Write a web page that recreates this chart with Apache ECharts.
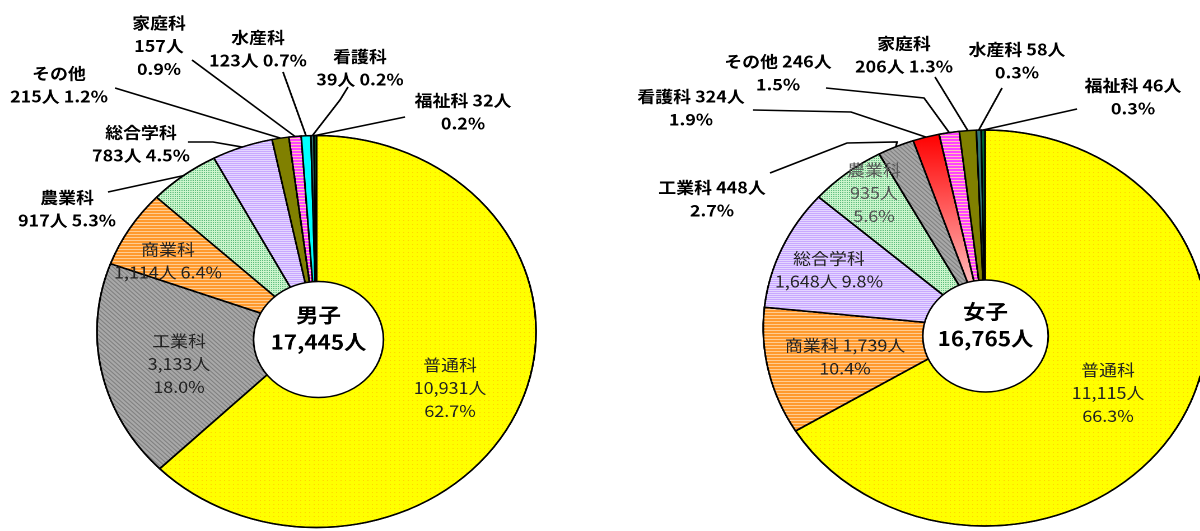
<!DOCTYPE html>
<html>
<head>
<meta charset="utf-8">
<script src="https://cdn.jsdelivr.net/npm/echarts@6/dist/echarts.min.js"></script>
<style>
html, body { margin: 0; padding: 0; background: #fff; overflow: hidden; }
#wrap { width: 1200px; height: 531px; overflow: hidden; }
#chart { width: 1071.43px; height: 531px; transform-origin: 0 0; transform: scaleX(1.12); }
</style>
</head>
<body>
<div id="wrap"><div id="chart"></div></div>
<script>
// 男子
const maleNames = ['普通科', '工業科', '商業科', '農業科', '総合学科', 'その他', '家庭科', '水産科', '看護科', '福祉科'];
const maleValues = [10931, 3133, 1114, 917, 783, 215, 157, 123, 39, 32];
const malePct = [62.7, 18.0, 6.4, 5.3, 4.5, 1.2, 0.9, 0.7, 0.2, 0.2];
const maleTitle = '男子';
const maleTotal = 17445;

// 女子
const femaleNames = ['普通科', '商業科', '総合学科', '農業科', '工業科', '看護科', 'その他', '家庭科', '水産科', '福祉科'];
const femaleValues = [11115, 1739, 1648, 935, 448, 324, 246, 206, 58, 46];
const femalePct = [66.3, 10.4, 9.8, 5.6, 2.7, 1.9, 1.5, 1.3, 0.3, 0.3];
const femaleTitle = '女子';
const femaleTotal = 16765;

const S = 1.12; // 横に引き伸ばし
const FONT = '"Noto Sans CJK JP", "Noto Sans", sans-serif';

function fmtNum(v) {
  return String(v).replace(/\B(?=(\d{3})+(?!\d))/g, ',');
}

// 塗り（模様）
const fills = {
  yellow: { color: '#FFFF00', decal: { symbol: 'rect', color: 'rgba(255,180,0,0.55)', dashArrayX: [1, 3], dashArrayY: [1, 3], symbolSize: 1 } },
  gray: { color: '#A8A8A8', decal: { symbol: 'rect', color: 'rgba(80,80,80,0.45)', dashArrayX: [1, 0], dashArrayY: [1, 2], rotation: Math.PI / 4, symbolSize: 1 } },
  orange: { color: '#FF9A2E', decal: { symbol: 'rect', color: 'rgba(255,222,180,0.75)', dashArrayX: [1, 0], dashArrayY: [1, 2], symbolSize: 1 } },
  green: { color: '#CCF5CC', decal: { symbol: 'rect', color: 'rgba(0,140,60,0.55)', dashArrayX: [1, 1], dashArrayY: [1, 1], symbolSize: 1 } },
  lavender: { color: '#C8A8FF', decal: { symbol: 'rect', color: 'rgba(235,225,255,0.8)', dashArrayX: [1, 0], dashArrayY: [1, 1], symbolSize: 1 } },
  olive: { color: '#808000' },
  magenta: { color: '#FF44FF', decal: { symbol: 'rect', color: 'rgba(255,230,160,0.8)', dashArrayX: [1, 0], dashArrayY: [1, 2], symbolSize: 1 } },
  cyan: { color: '#00FFFF' },
  teal: { color: '#337777' },
  dkgreen: { color: '#006633' },
  red: {
    color: new echarts.graphic.LinearGradient(0, 0, 0, 1, [
      { offset: 0, color: '#FF0000' },
      { offset: 1, color: '#FFF2F2' }
    ])
  }
};

const maleFills = ['yellow', 'gray', 'orange', 'green', 'lavender', 'olive', 'magenta', 'cyan', 'teal', 'dkgreen'];
const femaleFills = ['yellow', 'orange', 'lavender', 'green', 'gray', 'red', 'magenta', 'olive', 'teal', 'dkgreen'];

// ラベル位置（画面座標）と書式  f: 3=3行, 'n|vp', 'nv|p'
const maleLabels = [
  { x: 450, y: 388, f: 3, inside: true },
  { x: 179, y: 364, f: 3, inside: true },
  { x: 168, y: 261, f: 'n|vp', inside: true },
  { x: 67, y: 209, f: 'n|vp', line: [[108, 192]] },
  { x: 141, y: 144, f: 'n|vp', line: [[188, 142], [213, 142]] },
  { x: 59, y: 85, f: 'n|vp', line: [[115, 88]] },
  { x: 159, y: 46, f: 3, line: [[192, 60]] },
  { x: 258, y: 49, f: 'n|vp', line: [[283, 72]] },
  { x: 360, y: 68, f: 'n|vp', line: [[348, 87], [340, 100]] },
  { x: 463, y: 112, f: 'nv|p', line: [[405, 117]] }
];
const femaleLabels = [
  { x: 1108, y: 393, f: 3, inside: true },
  { x: 845, y: 357, f: 'nv|p', inside: true },
  { x: 829, y: 270, f: 'n|vp', inside: true },
  { x: 874, y: 193, f: 3, inside: true, color: '#555' },
  { x: 712, y: 199, f: 'nv|p', line: [[770, 173], [847, 143], [897, 142]] },
  { x: 691, y: 108, f: 'nv|p', line: [[753, 110], [851, 112]] },
  { x: 778, y: 73, f: 'nv|p', line: [[826, 88], [924, 98]] },
  { x: 904, y: 55, f: 'n|vp', line: [[935, 77]] },
  { x: 1017, y: 61, f: 'nv|p', line: [[1002, 88]] },
  { x: 1133, y: 97, f: 'nv|p', line: [[1077, 109]] }
];

function labelText(name, value, pct, f) {
  const v = fmtNum(value) + '人';
  const p = pct.toFixed(1) + '%';
  if (f === 3) return name + '\n' + v + '\n' + p;
  if (f === 'n|vp') return name + '\n' + v + ' ' + p;
  return name + ' ' + v + '\n' + p;
}

function buildPie(names, values, pct, fillKeys, labels, center, radius) {
  const data = names.map((n, i) => {
    const fill = fills[fillKeys[i]];
    const lb = labels[i];
    return {
      name: n,
      value: values[i],
      itemStyle: { color: fill.color, decal: fill.decal || null },
      label: {
        fontWeight: lb.inside ? 'normal' : 'bold',
        color: lb.color || (lb.inside ? '#222' : '#000')
      },
      labelLine: { show: !lb.inside }
    };
  });
  return {
    type: 'pie',
    center: center,
    radius: [0, radius],
    startAngle: 90,
    clockwise: true,
    avoidLabelOverlap: false,
    silent: true,
    animation: false,
    itemStyle: { borderColor: '#000', borderWidth: 1.5 },
    label: {
      show: true,
      position: 'outside',
      fontFamily: FONT,
      fontSize: 16,
      lineHeight: 23,
      align: 'center',
      formatter: p => labelText(p.name, p.value, pct[p.dataIndex], labels[p.dataIndex].f)
    },
    labelLine: { show: true, length: 10, length2: 10, lineStyle: { color: '#000', width: 1.6 } },
    labelLayout: params => {
      const lb = labels[params.dataIndex];
      const out = { x: lb.x / S, y: lb.y, align: 'center', verticalAlign: 'middle' };
      if (!lb.inside && params.labelLinePoints) {
        const pts = [params.labelLinePoints[0]];
        lb.line.slice().reverse().forEach(q => pts.push([q[0] / S, q[1]]));
        out.labelLinePoints = pts;
      }
      return out;
    },
    data: data
  };
}

function buildCenter(title, total, center, radius) {
  return {
    type: 'pie',
    center: center,
    radius: [0, radius],
    silent: true,
    animation: false,
    z: 5,
    itemStyle: { color: '#fff', borderColor: '#000', borderWidth: 1.5 },
    label: {
      show: true,
      position: 'center',
      fontFamily: FONT,
      fontSize: 20,
      fontWeight: 'bold',
      lineHeight: 27,
      color: '#000',
      offset: [0, -11],
      formatter: p => p.name + '\n' + fmtNum(p.value) + '人'
    },
    labelLine: { show: false },
    data: [{ name: title, value: total }]
  };
}

const myChart = echarts.init(document.getElementById('chart'), null, { devicePixelRatio: 2 });
const option = {
  backgroundColor: '#fff',
  series: [
    buildPie(maleNames, maleValues, malePct, maleFills, maleLabels, [316.5 / S, 331.5], 196),
    buildCenter(maleTitle, maleTotal, [318.5 / S, 339.5], 58),
    buildPie(femaleNames, femaleValues, femalePct, femaleFills, femaleLabels, [985 / S, 328], 198),
    buildCenter(femaleTitle, femaleTotal, [985.5 / S, 336], 56)
  ]
};
myChart.setOption(option);
</script>
</body>
</html>
